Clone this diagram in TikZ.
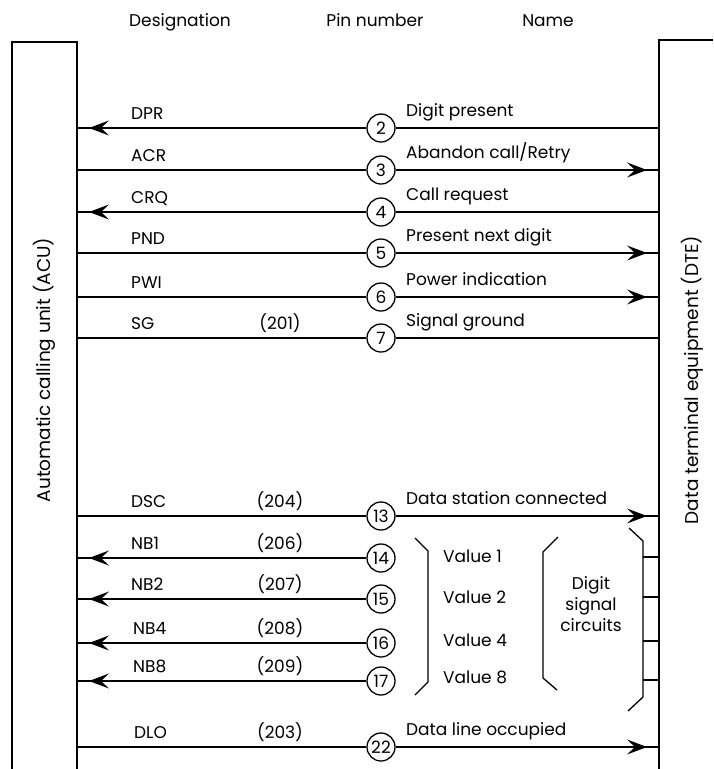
\documentclass[tikz,border=0pt]{standalone}
\usepackage{fontspec}
\setmainfont{Poppins}
\usetikzlibrary{arrows.meta,decorations.markings}
\begin{document}
\begin{tikzpicture}[x=1pt,y=-1pt,
  every node/.style={font=\fontsize{17}{20}\selectfont, inner sep=0pt},
  wire/.style={line width=1.3pt},
  pin/.style={circle, draw, line width=1.3pt, fill=white, minimum size=28pt, inner sep=0pt},
  lbl/.style={anchor=base west},
  mid/.style={anchor=base},
  sidetext/.style={rotate=90, font=\fontsize{18.5}{22}\selectfont},
  headmark/.style={postaction={decorate}, decoration={markings,
     mark=at position -12pt with {\arrow{Stealth[length=20pt,width=15pt,inset=8pt]}}}}
]
\useasboundingbox (0,0) rectangle (713,769);

% headers
\node[mid] (h1) at (180,26) {Designation};
\node[mid] (h2) at (375,26) {Pin number};
\node[mid] (h3) at (548,26) {Name};

% boxes
\draw[wire] (12,769) -- (12,42) -- (77,42) -- (77,769);
\draw[wire] (713,40) -- (659,40) -- (659,769);
\node[sidetext] (acu) at (44,370) {Automatic calling unit (ACU)};
\node[sidetext] (dte) at (692,380) {Data terminal equipment (DTE)};

% coordinates on boxes
\foreach \n/\y in {2/128,3/170,4/212,5/253,6/297,7/338,13/516,14/558,15/599,16/643,17/681,22/747}{
  \coordinate (L\n) at (77,\y);
  \coordinate (R\n) at (659,\y);
}

% pins
\foreach \n/\y in {2/128,3/170,4/212,5/253,6/297,7/338,13/516,14/558,15/599,16/643,17/681,22/747}{
  \node[pin] (p\n) at (381,\y) {\n};
}

% connectors
\draw[wire,headmark] (p2) -- (L2);  \draw[wire] (p2) -- (R2);
\draw[wire] (L3) -- (p3);  \draw[wire,headmark] (p3) -- (R3);
\draw[wire,headmark] (p4) -- (L4);  \draw[wire] (p4) -- (R4);
\draw[wire] (L5) -- (p5);  \draw[wire,headmark] (p5) -- (R5);
\draw[wire] (L6) -- (p6);  \draw[wire,headmark] (p6) -- (R6);
\draw[wire] (L7) -- (p7);  \draw[wire] (p7) -- (R7);
\draw[wire] (L13) -- (p13);  \draw[wire,headmark] (p13) -- (R13);
\draw[wire,headmark] (p14) -- (L14);
\draw[wire,headmark] (p15) -- (L15);
\draw[wire,headmark] (p16) -- (L16);
\draw[wire,headmark] (p17) -- (L17);
\draw[wire] (L22) -- (p22);  \draw[wire,headmark] (p22) -- (R22);

% designations
\node[lbl] (d2) at (131,119) {DPR};
\node[lbl] (d3) at (131,161) {ACR};
\node[lbl] (d4) at (131,203) {CRQ};
\node[lbl] (d5) at (131,244) {PND};
\node[lbl] (d6) at (131,288) {PWI};
\node[lbl] (d7) at (131,329) {SG};
\node[lbl] (d13) at (131,507) {DSC};
\node[lbl] (d14) at (131,549) {NB1};
\node[lbl] (d15) at (131,590) {NB2};
\node[lbl] (d16) at (133,634) {NB4};
\node[lbl] (d17) at (133,672) {NB8};
\node[lbl] (d22) at (134,738) {DLO};

% pin numbers
\node[mid] (n7) at (280,329) {(201)};
\node[mid] (n13) at (280,507) {(204)};
\node[mid] (n14) at (280,549) {(206)};
\node[mid] (n15) at (280,590) {(207)};
\node[mid] (n16) at (280,634) {(208)};
\node[mid] (n17) at (280,672) {(209)};
\node[mid] (n22) at (280,738) {(203)};

% names
\node[lbl] (m2) at (406,116) {Digit present};
\node[lbl] (m3) at (406,158) {Abandon call/Retry};
\node[lbl] (m4) at (406,200) {Call request};
\node[lbl] (m5) at (406,241) {Present next digit};
\node[lbl] (m6) at (406,285) {Power indication};
\node[lbl] (m7) at (406,326) {Signal ground};
\node[lbl] (m13) at (406,504) {Data station connected};
\node[lbl] (m22) at (406,735) {Data line occupied};

% values
\node[lbl] (v1) at (443,562) {Value 1};
\node[lbl] (v2) at (443,603) {Value 2};
\node[lbl] (v4) at (443,646) {Value 4};
\node[lbl] (v8) at (443,683) {Value 8};
\node[align=center, font=\fontsize{17}{21}\selectfont] (dsc) at (591,604) {Digit\\signal\\circuits};

% brackets
\draw[wire] (415,538) -- (428,551) -- (428,682) -- (415,695);
\draw[wire] (558,537) -- (543,552) -- (543,678) -- (557,690);
\draw[wire] (629,528) -- (643,541) -- (643,697) -- (628,711);
\foreach \y in {557,597,641,680}{
  \draw[wire] (643,\y) -- (659,\y);
}
\end{tikzpicture}
\end{document}
